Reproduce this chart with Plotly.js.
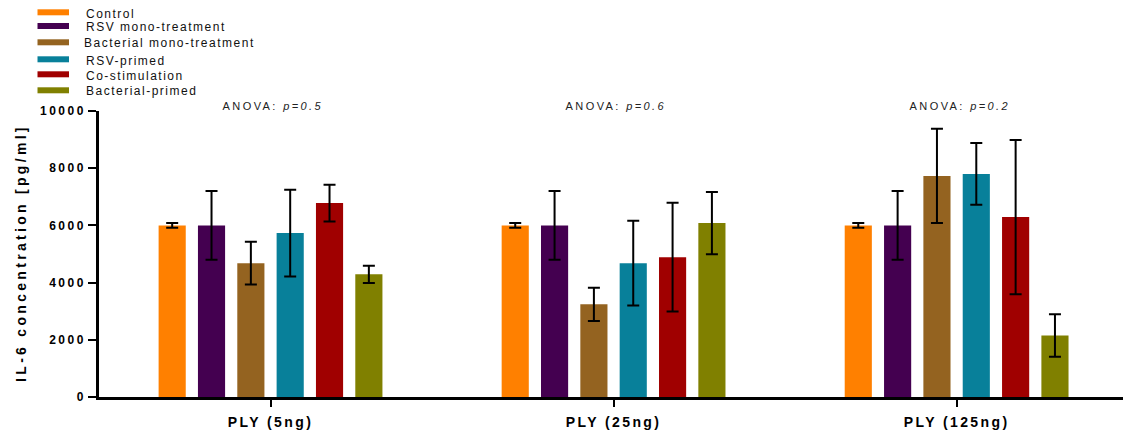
<!DOCTYPE html>
<html>
<head>
<meta charset="utf-8">
<script src="https://cdn.plot.ly/plotly-3.0.1.min.js"></script>
<style>
  html, body { margin: 0; padding: 0; background: #fff; }
  #chart { width: 1123px; height: 434px; }
  .xtick text { letter-spacing: 2.4px; }
  .ytick text { letter-spacing: 2.5px; }
  .annotation text { letter-spacing: 1.5px; }
  .annotation[data-index="0"] text { letter-spacing: 3.3px; }
  .annotation[data-index="1"] text,
  .annotation[data-index="2"] text,
  .annotation[data-index="3"] text { letter-spacing: 2.4px; }
</style>
</head>
<body>
<div id="chart"></div>
<script>
// ---- data ----
const categories = ['PLY (5ng)', 'PLY (25ng)', 'PLY (125ng)'];
const seriesNames = ['Control', 'RSV mono-treatment', 'Bacterial mono-treatment', 'RSV-primed', 'Co-stimulation', 'Bacterial-primed'];
const seriesColors = ['#FF8000', '#440050', '#946320', '#08809A', '#A00000', '#808000'];

const control      = [6000, 6000, 6000];
const controlErr   = [80, 80, 80];
const rsvMono      = [6000, 6000, 6000];
const rsvMonoErr   = [1200, 1200, 1200];
const bactMono     = [4680, 3240, 7730];
const bactMonoErr  = [750, 580, 1650];
const rsvPrimed    = [5730, 4680, 7800];
const rsvPrimedErr = [1520, 1480, 1080];
const coStim       = [6780, 4890, 6290];
const coStimErr    = [640, 1900, 2700];
const bactPrimed   = [4290, 6080, 2150];
const bactPrimedErr= [300, 1090, 740];

const anovaP = ['0.5', '0.6', '0.2'];

const yTitle = 'IL-6 concentration [pg/ml]';
const yTickVals = [0, 2000, 4000, 6000, 8000, 10000];

// ---- layout helpers ----
const W = 1123, H = 434;
const M = {l: 99, r: 0, t: 111, b: 37};
const PW = W - M.l - M.r, PH = H - M.t - M.b;
const px2x = px => (px - M.l) / PW;
const px2y = py => (H - M.b - py) / PH;

const values = [control, rsvMono, bactMono, rsvPrimed, coStim, bactPrimed];
const errors = [controlErr, rsvMonoErr, bactMonoErr, rsvPrimedErr, coStimErr, bactPrimedErr];

const traces = seriesNames.map((name, i) => ({
  type: 'bar',
  name: name,
  x: categories,
  y: values[i],
  marker: {color: seriesColors[i], line: {width: 0}},
  error_y: {type: 'data', array: errors[i], visible: true, color: '#000', thickness: 2, width: 6},
  hoverinfo: 'x+y+name'
}));

const font = 'Liberation Sans, Arial, sans-serif';

const annotations = [];
// y-axis title (index 0)
annotations.push({
  xref: 'paper', yref: 'paper', x: px2x(21), y: px2y(253),
  text: '<b>' + yTitle + '</b>', textangle: -90, showarrow: false,
  xanchor: 'center', yanchor: 'middle',
  font: {family: font, size: 14, color: '#000'}
});
// ANOVA labels (index 1-3)
categories.forEach((c, i) => {
  annotations.push({
    xref: 'x', yref: 'paper', x: c, y: px2y(106), xshift: 3,
    text: 'ANOVA: <i>p=' + anovaP[i] + '</i>', showarrow: false,
    xanchor: 'center', yanchor: 'middle',
    font: {family: font, size: 11, color: '#222'}
  });
});

// custom legend
const swY = [12.3, 26, 42.3, 59.3, 74.3, 90.3];
const txY = [14, 27.3, 43.3, 60.7, 76, 91];
const shapes = [];
seriesNames.forEach((name, i) => {
  shapes.push({
    type: 'rect', xref: 'paper', yref: 'paper', layer: 'above',
    x0: px2x(37.5), x1: px2x(69), y0: px2y(swY[i] - 3), y1: px2y(swY[i] + 3),
    fillcolor: seriesColors[i], line: {width: 0}
  });
  annotations.push({
    xref: 'paper', yref: 'paper', x: px2x(i === 2 ? 82 : 84), y: px2y(txY[i]),
    text: name, showarrow: false, xanchor: 'left', yanchor: 'middle', align: 'left',
    font: {family: font, size: 12, color: '#111'}
  });
});

const layout = {
  width: W, height: H,
  margin: M,
  paper_bgcolor: '#fff', plot_bgcolor: '#fff',
  barmode: 'group', bargap: 0.312, bargroupgap: 0.31,
  showlegend: false,
  font: {family: font, color: '#000'},
  xaxis: {
    type: 'category', range: [-0.5, 2.485], fixedrange: true,
    showline: true, linecolor: '#000', linewidth: 2.5,
    ticks: 'outside', ticklen: 7, tickwidth: 2, tickcolor: '#000',
    tickfont: {family: font, size: 14, color: '#000', weight: 'bold'},
    ticklabelstandoff: 3,
    showgrid: false, zeroline: false, automargin: false
  },
  yaxis: {
    range: [0, 10000], fixedrange: true,
    tickvals: yTickVals, ticktext: yTickVals.map(v => '<b>' + v + '</b>'),
    showline: true, linecolor: '#000', linewidth: 2.5,
    ticks: 'outside', ticklen: 8, tickwidth: 2, tickcolor: '#000',
    tickfont: {family: font, size: 12, color: '#000'},
    showgrid: false, zeroline: false, automargin: false
  },
  annotations: annotations,
  shapes: shapes
};

Plotly.newPlot('chart', traces, layout, {displayModeBar: false});
</script>
</body>
</html>
